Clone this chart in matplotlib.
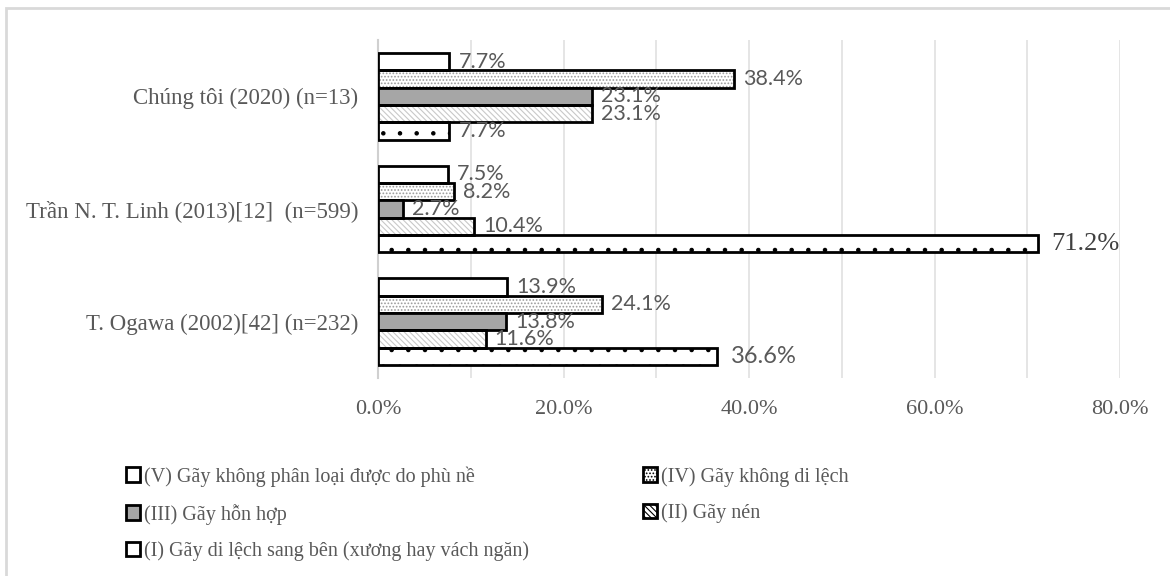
import matplotlib
matplotlib.use("Agg")
import matplotlib.pyplot as plt
from matplotlib.patches import Patch, Rectangle
import numpy as np

# Studies (top to bottom) and fracture types (top to bottom within a group)
studies = ["Chúng tôi (2020) (n=13)",
           "Trần N. T. Linh (2013)[12]  (n=599)",
           "T. Ogawa (2002)[42] (n=232)"]
types = ["(V) Gãy không phân loại được do phù nề",
         "(IV) Gãy không di lệch",
         "(III) Gãy hỗn hợp",
         "(II) Gãy nén",
         "(I) Gãy di lệch sang bên (xương hay vách ngăn)"]

type_v = [7.7, 7.5, 13.9]
type_iv = [38.4, 8.2, 24.1]
type_iii = [23.1, 2.7, 13.8]
type_ii = [23.1, 10.4, 11.6]
type_i = [7.7, 71.2, 36.6]
series = [type_v, type_iv, type_iii, type_ii, type_i]

xticks = [0, 20, 40, 60, 80]
xtick_labels = ["0.0%", "20.0%", "40.0%", "60.0%", "80.0%"]

# fill, hatch, hatch colour for each type
styles = [("white", None, None),
          ("white", ".....", "#9a9a9a"),
          ("#a6a6a6", None, None),
          ("white", "\\\\\\\\\\\\", "#c8c8c8"),
          ("white", ".", "black")]

plt.rcParams["hatch.linewidth"] = 0.8
serif = ["Liberation Serif", "DejaVu Serif"]
sans = ["Lato", "DejaVu Sans"]
grey_text = "#595959"

fig = plt.figure(figsize=(11.7, 5.76), dpi=100)
ax = fig.add_axes([378 / 1170, 1 - 378 / 576, (1120 - 378) / 1170, (378 - 40) / 576])

# outer frame
fig.patches.append(Rectangle((6 / 1170, -0.1), 1.2, (576 - 8) / 576 + 0.1,
                             transform=fig.transFigure, fill=False,
                             edgecolor="#d9d9d9", linewidth=2, zorder=0))

h = 0.1535
y_base = np.arange(len(studies))
for k, vals in enumerate(series):
    fc, hatch, hc = styles[k]
    ys = y_base + (k - 2) * h
    if hatch:
        ax.barh(ys, vals, height=h, color=fc, hatch=hatch, edgecolor=hc,
                linewidth=0, zorder=2)
        ax.barh(ys, vals, height=h, fill=False, edgecolor="black",
                linewidth=2, zorder=3)
    else:
        ax.barh(ys, vals, height=h, color=fc, edgecolor="black",
                linewidth=2, zorder=3)
    for y, v in zip(ys, vals):
        big = v > 30 and k == 4
        if big and v > 60:
            fam, size, col, off = serif, 19, "#404040", 13
        elif big:
            fam, size, col, off = sans, 17, grey_text, 13
        else:
            fam, size, col, off = sans, 15.5, grey_text, 9
        ax.annotate(f"{v:.1f}%", (v, y), xytext=(off, 0),
                    textcoords="offset pixels", va="center", ha="left",
                    family=fam, fontsize=size, color=col, zorder=4)

ax.set_xlim(0, 80)
ax.set_ylim(len(studies) - 0.5, -0.5)
ax.set_xticks(xticks)
ax.set_xticklabels(xtick_labels, family=serif, fontsize=16, color=grey_text)
ax.set_xticks(np.arange(0, 81, 10), minor=True)
ax.set_yticks(y_base)
ax.set_yticklabels(studies, family=serif, fontsize=16.5, color=grey_text)
ax.tick_params(axis="x", length=0, pad=16)
ax.tick_params(axis="y", length=0, pad=14)
ax.tick_params(axis="x", which="minor", length=0)
ax.grid(axis="x", which="both", color="#e3e3e3", linewidth=1.3, zorder=0)
for s in ["top", "right", "bottom"]:
    ax.spines[s].set_visible(False)
ax.spines["left"].set_color("#d0d0d0")
ax.spines["left"].set_linewidth(1.5)
ax.set_axisbelow(True)

# legend: column-major order gives rows V|IV, III|II, I
handles = []
for k in range(5):
    fc, hatch, hc = styles[k]
    handles.append(Patch(facecolor=fc, hatch=hatch, edgecolor="black",
                         linewidth=2, label=types[k]))
order = [0, 2, 4, 1, 3]
leg = fig.legend([handles[i] for i in order], [types[i] for i in order],
                 ncol=2, loc="upper left", bbox_to_anchor=(118 / 1170, 1 - 458 / 576),
                 frameon=False, prop={"family": serif, "size": 14.5},
                 handlelength=0.7, handleheight=0.7, handletextpad=0.2,
                 labelspacing=0.85, columnspacing=5.65, borderaxespad=0)
for t in leg.get_texts():
    t.set_color(grey_text)

fig.savefig("out.png", dpi=100, facecolor="white")
